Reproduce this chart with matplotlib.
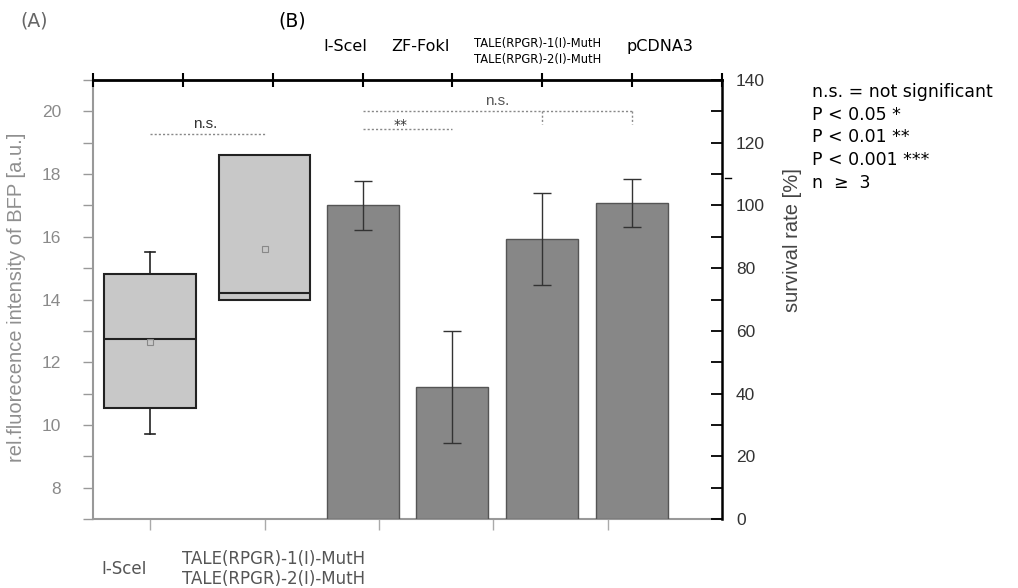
import matplotlib
matplotlib.use("Agg")
import matplotlib.pyplot as plt
from matplotlib.ticker import MultipleLocator

# ---------------- data ----------------
# Panel A: box plots (rel. fluorescence intensity of BFP)
box_labels = ["I-SceI", "TALE(RPGR)-1(I)-MutH\nTALE(RPGR)-2(I)-MutH"]
box_q1 = [10.55, 14.0]
box_med = [12.75, 14.2]
box_q3 = [14.8, 18.6]
box_whislo = [9.7, 14.0]
box_whishi = [15.5, 18.6]
box_mean = [12.65, 15.6]

# Panel B: survival rate bars
bar_labels = ["I-SceI", "ZF-FokI", "TALE(RPGR)-1(I)-MutH\nTALE(RPGR)-2(I)-MutH", "pCDNA3"]
bar_values = [100.0, 42.0, 89.3, 100.8]
bar_errors = [7.7, 17.8, 14.6, 7.6]

legend_lines = ["n.s. = not significant", "P < 0.05 *", "P < 0.01 **",
                "P < 0.001 ***", "n  \u2265  3"]

ARIAL = ["Liberation Sans", "DejaVu Sans"]
W, H = 1018, 588

fig = plt.figure(figsize=(W / 100, H / 100), dpi=100)
fig.patch.set_facecolor("white")
rect = [93 / W, 69 / H, 629 / W, 439 / H]

# ---------------- panel A axes ----------------
ax1 = fig.add_axes(rect)
box_pos = [0, 1]
stats = []
for i in range(len(box_labels)):
    stats.append(dict(med=box_med[i], q1=box_q1[i], q3=box_q3[i],
                      whislo=box_whislo[i], whishi=box_whishi[i],
                      mean=box_mean[i], fliers=[], label=box_labels[i]))
ax1.bxp(stats, positions=box_pos, widths=0.8, patch_artist=True,
        showmeans=True, capwidths=0.09,
        boxprops=dict(facecolor="#c8c8c8", edgecolor="#222222", linewidth=1.5),
        medianprops=dict(color="#222222", linewidth=1.5),
        whiskerprops=dict(color="#222222", linewidth=1.2),
        capprops=dict(color="#222222", linewidth=1.2),
        meanprops=dict(marker="s", markersize=4, markerfacecolor="none",
                       markeredgecolor="#888888", markeredgewidth=0.8))
ax1.set_xlim(-0.5, 5.0)
ax1.set_ylim(7, 21)
ax1.set_xticks([0, 1, 2, 3, 4])
ax1.set_xticklabels([])
ax1.yaxis.set_major_locator(MultipleLocator(2))
ax1.yaxis.set_minor_locator(MultipleLocator(1))
ax1.tick_params(axis="y", which="both", direction="out", length=7, width=1,
                color="#999999", labelcolor="#8a8a8a", labelsize=12.5, pad=16)
ax1.tick_params(axis="x", direction="out", length=8, width=1, color="#aaaaaa")
for lab in ax1.get_yticklabels():
    lab.set_family(ARIAL)
for s in ["top", "right"]:
    ax1.spines[s].set_visible(False)
for s in ["left", "bottom"]:
    ax1.spines[s].set_color("#999999")
    ax1.spines[s].set_linewidth(1.5)
ax1.set_ylabel("rel.fluorecence intensity of BFP [a.u.]", color="#8f8f8f",
               fontsize=14.5, family=ARIAL)
ax1.yaxis.set_label_coords(-0.106, 0.505)

# significance (panel A)
ax1.plot([0, 1], [19.27, 19.27], color="#888888", lw=1, ls=(0, (1.5, 1.5)))
ax1.text(0.48, 19.6, "n.s.", ha="center", va="center", fontsize=11,
         color="#333333", family=ARIAL)

# bottom category labels
fig.text(124 / W, 1 - 569 / H, box_labels[0], ha="center", va="center",
         fontsize=12, color="#555555")
fig.text(274 / W, 1 - 569 / H, box_labels[1], ha="center", va="center",
         fontsize=12, color="#555555", linespacing=1.2)

# ---------------- panel B axes ----------------
ax2 = fig.add_axes(rect, facecolor="none")
bar_pos = [3, 4, 5, 6]
ax2.bar(bar_pos, bar_values, width=0.8, color="#878787", edgecolor="#555555",
        linewidth=1)
ax2.errorbar(bar_pos, bar_values, yerr=bar_errors, fmt="none", ecolor="#333333",
             elinewidth=1, capsize=6.5, capthick=1)
ax2.set_xlim(0, 7)
ax2.set_ylim(0, 140)
ax2.xaxis.set_ticks_position("top")
ax2.set_xticks(range(8))
ax2.set_xticklabels([])
ax2.tick_params(axis="x", direction="inout", length=10, width=1.5, color="black")
ax2.yaxis.tick_right()
ax2.yaxis.set_label_position("right")
ax2.yaxis.set_major_locator(MultipleLocator(20))
ax2.yaxis.set_minor_locator(MultipleLocator(10))
ax2.tick_params(axis="y", which="both", direction="in", length=8, width=1.3,
                color="black", labelcolor="#333333", labelsize=12.5, pad=10)
for lab in ax2.get_yticklabels():
    lab.set_family(ARIAL)
for s in ["left", "bottom"]:
    ax2.spines[s].set_visible(False)
ax2.spines["top"].set_linewidth(2)
ax2.spines["right"].set_linewidth(1.8)
ax2.set_ylabel("survival rate [%]", color="#444444", fontsize=14.5, family=ARIAL)
ax2.yaxis.set_label_coords(1.097, 0.635)

# small stray mark near the right axis
ax2.plot([1.005, 1.015], [108.8 / 140, 108.8 / 140], transform=ax2.transAxes,
         color="black", lw=1, clip_on=False)

# top category labels (placed as in the original figure, slightly off the ticks)
top_label_px = [345, 420, 538, 660]
for i, lab in enumerate(bar_labels):
    multi = "\n" in lab
    yc = 51.5 if multi else 46.5
    fig.text(top_label_px[i] / W, 1 - yc / H, lab, ha="center", va="center",
             fontsize=8.3 if multi else 11.5, color="black", linespacing=1.35)

# significance (panel B)
dot = (0, (1.5, 1.5))
ax2.plot([3, 6], [130, 130], color="#888888", lw=1, ls=dot)
ax2.plot([5, 5], [130, 126], color="#888888", lw=1, ls=dot)
ax2.plot([6, 6], [130, 126], color="#888888", lw=1, ls=dot)
ax2.text(4.5, 133.2, "n.s.", ha="center", va="center", fontsize=11,
         color="#555555", family=ARIAL)
ax2.plot([3, 4], [124.3, 124.3], color="#888888", lw=1, ls=dot)
ax2.text(3.42, 125.8, "**", ha="center", va="center", fontsize=10,
         color="#333333")

# legend text
for i, line in enumerate(legend_lines):
    fig.text(812 / W, 1 - (92 + 22.7 * i) / H, line, ha="left", va="center",
             fontsize=12.5, color="black")

# panel letters
fig.text(20 / W, 1 - 21 / H, "(A)", ha="left", va="center", fontsize=13.5,
         color="#666666")
fig.text(278 / W, 1 - 21 / H, "(B)", ha="left", va="center", fontsize=13.5,
         color="black")

fig.savefig("out.png", dpi=100, facecolor="white")
